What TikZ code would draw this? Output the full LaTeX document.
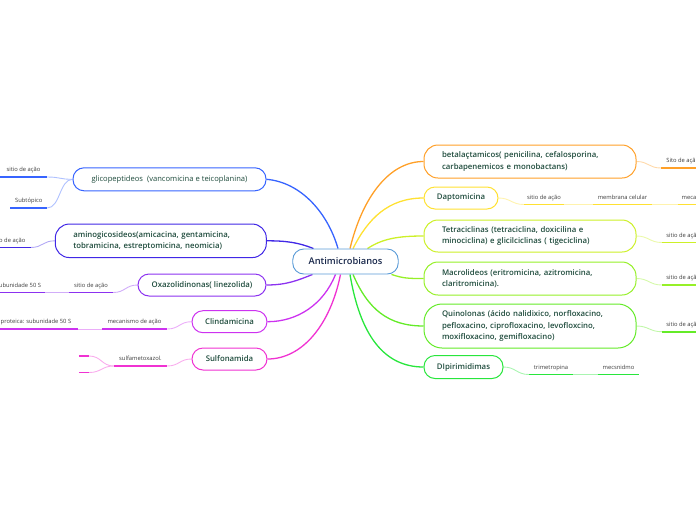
\documentclass[tikz,border=0pt]{standalone}
\usepackage{fontspec}
\setmainfont{Open Sans}[BoldFont={Open Sans Semibold}]
\usetikzlibrary{backgrounds}
\definecolor{ccenter}{RGB}{90,155,215}
\definecolor{cglico}{RGB}{55,100,255}
\definecolor{camino}{RGB}{65,40,230}
\definecolor{coxaz}{RGB}{140,50,240}
\definecolor{cclinda}{RGB}{205,50,240}
\definecolor{csulfo}{RGB}{240,50,210}
\definecolor{cbeta}{RGB}{255,160,40}
\definecolor{cdapto}{RGB}{255,225,50}
\definecolor{ctetra}{RGB}{205,240,40}
\definecolor{cmacro}{RGB}{150,240,40}
\definecolor{cquino}{RGB}{100,235,40}
\definecolor{cdipir}{RGB}{40,230,60}
\definecolor{txt}{RGB}{30,75,60}
\definecolor{ctxt}{RGB}{25,40,75}
\definecolor{subtxt}{RGB}{60,60,60}
\newcommand\subt[6]{%
  \node[sub, minimum width={#4-#3}] (#1) at ({(#3+#4)/2},#5) {#6};
  \draw[ul=#2] (#1.south west) -- (#1.south east);}
\begin{document}
\begin{tikzpicture}[x=1pt,y=-1pt,
  topic/.style={draw, fill=white, line width=1pt, rounded corners=11pt, inner xsep=0pt, inner ysep=0pt, text=txt, font=\fontsize{7.8}{11.3}\selectfont\bfseries},
  mtopic/.style={topic, align=left, inner xsep=18pt, text width=176pt, rounded corners=14pt},
  conn/.style={line width=1.3pt, draw=#1},
  lt/.style={line width=0.9pt, draw=#1!40},
  ul/.style={line width=1.6pt, draw=#1},
  sub/.style={font=\fontsize{5.8}{7}\selectfont, text=subtxt, text height=4.2pt, text depth=1.3pt, inner ysep=4pt, inner xsep=0pt, anchor=south}]
\useasboundingbox (0,0) rectangle (696,520);
% main nodes
\node[topic, draw=ccenter, line width=0.9pt, minimum width=105.5pt, minimum height=25pt, text=ctxt, font=\fontsize{9.3}{11}\selectfont\bfseries] (A) at (345.5,261.5) {Antimicrobianos};
\node[topic, draw=cglico, minimum width=193pt, minimum height=23pt, font=\fontsize{7.6}{10}\selectfont] (glico) at (169.5,179.3) {glicopeptideos\ \ (vancomicina e teicoplanina)};
\node[mtopic, draw=camino, text width=175pt, minimum height=33.5pt] (amino) at (160.8,240.8) {aminogicosideos(amicacina, gentamicina,\\ tobramicina, estreptomicina, neomicia)};
\node[topic, draw=coxaz, minimum width=128pt, minimum height=22pt] (oxaz) at (202,285) {Oxazolidinonas( linezolida)};
\node[topic, draw=cclinda, minimum width=75pt, minimum height=22pt] (clinda) at (229.5,321.7) {Clindamicina};
\node[topic, draw=csulfo, minimum width=75pt, minimum height=22pt] (sulfo) at (229.5,359) {Sulfonamida};
\node[mtopic, draw=cbeta, minimum height=33pt] (beta) at (530,161.5) {betalaçtamicos( penicilina, cefalosporina,\\ carbapenemicos e monobactans)};
\node[topic, draw=cdapto, minimum width=74pt, minimum height=22pt] (dapto) at (461,198) {Daptomicina};
\node[mtopic, draw=ctetra, minimum height=32pt] (tetra) at (530,236) {Tetraciclinas (tetraciclina, doxicilina e\\ minociclina) e glicilciclinas ( tigeciclina)};
\node[mtopic, draw=cmacro, minimum height=33pt] (macro) at (530,278.5) {Macrolideos (eritromicina, azitromicina,\\ claritromicina).};
\node[mtopic, draw=cquino, minimum height=44pt, rounded corners=18pt] (quino) at (530,326) {Quinolonas (ácido nalidixico, norfloxacino,\\ pefloxacino, ciprofloxacino, levofloxcino,\\ moxifloxacino, gemifloxacino)};
\node[topic, draw=cdipir, minimum width=79pt, minimum height=23pt] (dipir) at (463.5,367) {DIpirimidimas};
% subtopics
\subt{g1}{cglico}{0}{47}{177}{sitio de ação}
\subt{g2}{cglico}{10.5}{47}{208}{Subtópico}
\subt{a1}{camino}{-6}{30.5}{247.5}{o de ação}
\subt{o2}{coxaz}{-5}{45}{292.5}{ubunidade 50 S}
\subt{o1}{coxaz}{69}{113}{292.5}{sitio de ação}
\subt{c2}{cclinda}{-6}{78}{329}{proteica: subunidade 50 S}
\subt{c1}{cclinda}{102}{167}{329}{mecanismo de ação}
\subt{s1}{csulfo}{114}{167}{366}{sulfametoxazol.}
\subt{s2}{csulfo}{79}{89}{356}{}
\subt{s3}{csulfo}{79}{89}{372.5}{}
\subt{b1}{cbeta}{661}{701}{168}{Sito de açã}
\subt{d1}{cdapto}{524}{564}{204.5}{sitio de ação}
\subt{d2}{cdapto}{593}{652}{204.5}{membrana celular}
\subt{d3}{cdapto}{678}{700}{204.5}{meca}
\subt{t1}{ctetra}{662}{701}{242.5}{sitio de açã}
\subt{m1}{cmacro}{662}{701}{285}{sitio de açã}
\subt{q1}{cquino}{662}{701}{331.7}{sitio de açã}
\subt{p1}{cdipir}{529}{573}{374.5}{trimetropina}
\subt{p2}{cdipir}{598}{639}{374.5}{mecsnidmo}
\begin{scope}[on background layer]
% main connectors
\draw[conn=cglico] ([xshift=-7.5pt]A.north) .. controls +(-10,-35) and +(35,3) .. (glico.east);
\draw[conn=camino] ([xshift=-32pt]A.north) .. controls +(-15,-6) and +(20,0) .. (amino.east);
\draw[conn=coxaz] ([xshift=-33pt]A.south) .. controls +(-15,6) and +(20,0) .. (oxaz.east);
\draw[conn=cclinda] ([xshift=-10pt]A.south) .. controls +(-12,30) and +(30,0) .. (clinda.east);
\draw[conn=csulfo] ([xshift=-5pt]A.south) .. controls +(-10,50) and +(35,0) .. (sulfo.east);
\draw[conn=cbeta] ([xshift=4.5pt]A.north) .. controls +(12,-50) and +(-35,0) .. (beta.west);
\draw[conn=cdapto] ([xshift=7.5pt]A.north) .. controls +(15,-30) and +(-35,0) .. (dapto.west);
\draw[conn=ctetra] ([xshift=22pt]A.north) .. controls +(15,-10) and +(-25,0) .. (tetra.west);
\draw[conn=cmacro] ([xshift=46pt]A.south) .. controls +(12,4) and +(-15,0) .. (macro.west);
\draw[conn=cquino] ([xshift=7.5pt]A.south) .. controls +(15,35) and +(-35,0) .. (quino.west);
\draw[conn=cdipir] ([xshift=4.5pt]A.south) .. controls +(10,60) and +(-40,0) .. (dipir.west);
% subtopic connectors
\draw[lt=cglico] (glico.west) .. controls +(-13,0) and +(13,0) .. (g1.south east);
\draw[lt=cglico] (glico.west) .. controls +(-13,0) and +(13,0) .. (g2.south east);
\draw[lt=camino] (amino.west) .. controls +(-12,0) and +(12,0) .. (a1.south east);
\draw[lt=coxaz] (oxaz.west) .. controls +(-12,0) and +(12,0) .. (o1.south east);
\draw[lt=coxaz] (o1.south west) -- (o2.south east);
\draw[lt=cclinda] (clinda.west) .. controls +(-12,0) and +(12,0) .. (c1.south east);
\draw[lt=cclinda] (c1.south west) -- (c2.south east);
\draw[lt=csulfo] (sulfo.west) .. controls +(-12,0) and +(12,0) .. (s1.south east);
\draw[lt=csulfo] (s1.south west) .. controls +(-12,0) and +(12,0) .. (s2.south east);
\draw[lt=csulfo] (s1.south west) .. controls +(-12,0) and +(12,0) .. (s3.south east);
\draw[lt=cbeta] (beta.east) .. controls +(12,0) and +(-12,0) .. (b1.south west);
\draw[lt=cdapto] (dapto.east) .. controls +(12,0) and +(-12,0) .. (d1.south west);
\draw[lt=cdapto] (d1.south east) -- (d2.south west);
\draw[lt=cdapto] (d2.south east) -- (d3.south west);
\draw[lt=ctetra] (tetra.east) .. controls +(12,0) and +(-12,0) .. (t1.south west);
\draw[lt=cmacro] (macro.east) .. controls +(12,0) and +(-12,0) .. (m1.south west);
\draw[lt=cquino] (quino.east) .. controls +(12,0) and +(-12,0) .. (q1.south west);
\draw[lt=cdipir] (dipir.east) .. controls +(12,0) and +(-12,0) .. (p1.south west);
\draw[lt=cdipir] (p1.south east) -- (p2.south west);
\end{scope}
\end{tikzpicture}
\end{document}
